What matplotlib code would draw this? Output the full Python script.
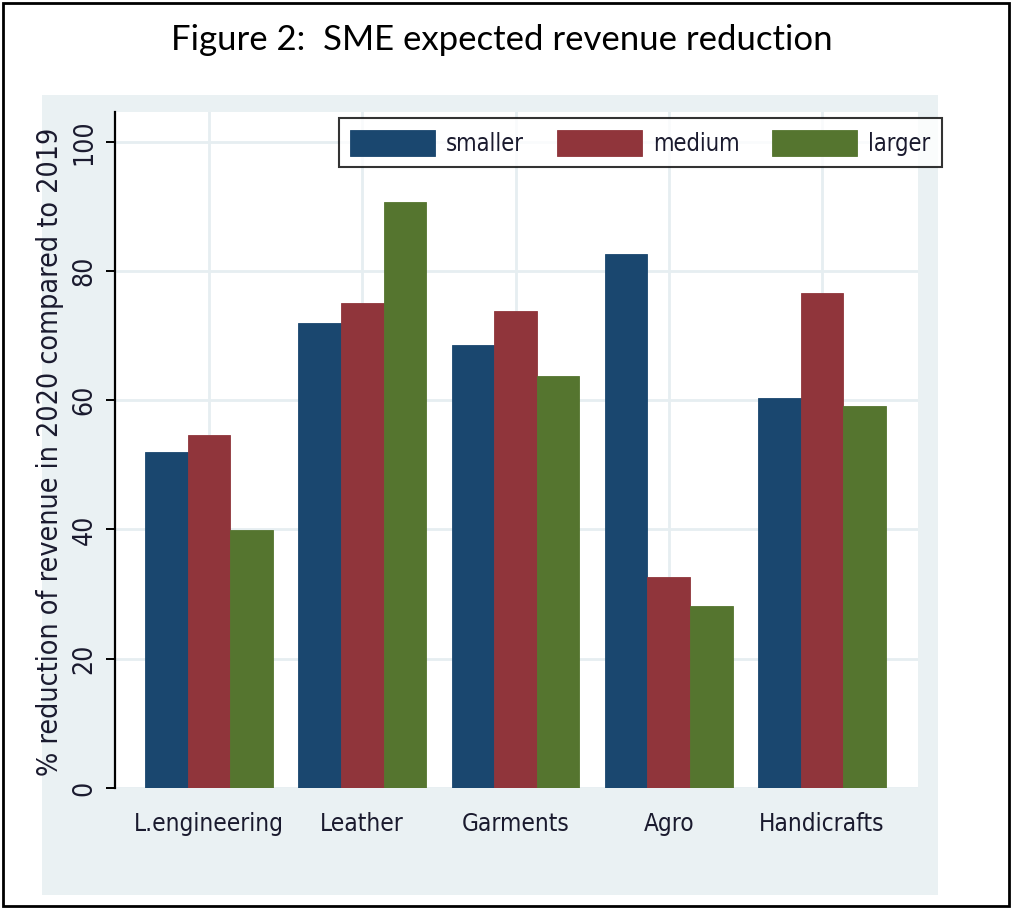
import numpy as np
import matplotlib.pyplot as plt
from matplotlib.patches import Rectangle

# datos
sectores = ["L.engineering", "Leather", "Garments", "Agro", "Handicrafts"]
tamanos = ["smaller", "medium", "larger"]
smaller = [52.0, 72.0, 68.6, 82.6, 60.4]
medium = [54.6, 75.0, 73.8, 32.7, 76.6]
larger = [39.9, 90.6, 63.8, 28.2, 59.1]
valores = [smaller, medium, larger]
colores = ["#1A476F", "#90353B", "#55752F"]

plt.rcParams["font.family"] = ["DejaVu Sans"]
plt.rcParams["font.stretch"] = "condensed"

fig = plt.figure(figsize=(10.12, 9.09), dpi=100)
W, H = 1012, 909

# fondo gris de la region del grafico (estilo Stata)
fig.patches.append(Rectangle((42 / W, 1 - 895 / H), 896 / W, 800 / H,
                             transform=fig.transFigure, facecolor="#EAF1F3",
                             edgecolor="none", zorder=-1))
# marco exterior negro
fig.patches.append(Rectangle((3 / W, 3 / H), 1006 / W, 903 / H,
                             transform=fig.transFigure, facecolor="none",
                             edgecolor="black", linewidth=2, zorder=10))

ax = fig.add_axes([115 / W, 1 - 788 / H, 803 / W, 676 / H])
ax.set_facecolor("white")

x = np.arange(len(sectores))
ancho = 0.278
for i, (serie, col, nombre) in enumerate(zip(valores, colores, tamanos)):
    ax.bar(x + (i - 1) * ancho, serie, width=ancho, color=col, edgecolor=col,
           linewidth=0.6, label=nombre, zorder=3)

ax.set_xlim(-0.613, 4.626)
ax.set_ylim(0, 104.6)

ax.set_yticks([0, 20, 40, 60, 80, 100])
ax.set_xticks(x)
ax.set_xticklabels(sectores, fontsize=17.5, color="#1a1a2e")
ax.tick_params(axis="x", length=0, pad=17)
ax.tick_params(axis="y", length=6.5, width=1.4, pad=6, labelsize=19,
               labelcolor="#1a1a2e")
for lab in ax.get_yticklabels():
    lab.set_rotation(90)
    lab.set_va("center")

ax.grid(True, color="#E6EEF1", linewidth=2, zorder=0)
ax.set_axisbelow(True)
for lado in ["top", "right", "bottom"]:
    ax.spines[lado].set_visible(False)
ax.spines["left"].set_linewidth(1.6)

ax.set_ylabel("% reduction of revenue in 2020 compared to 2019", fontsize=20.5,
              color="#1a1a2e", va="center")
ax.yaxis.set_label_coords(-0.081, 0.497)

leg = ax.legend(ncol=3, loc="upper right", bbox_to_anchor=(942 / W, 1 - 118 / H),
                bbox_transform=fig.transFigure, fontsize=17, frameon=True,
                fancybox=False, edgecolor="black", handlelength=3.6,
                handleheight=1.3, handletextpad=0.45, columnspacing=1.4,
                borderpad=0.5, borderaxespad=0)
leg.get_frame().set_linewidth(1.5)
for t in leg.get_texts():
    t.set_color("#1a1a2e")

fig.text(0.496, 1 - 40 / H, "Figure 2:  SME expected revenue reduction",
         ha="center", va="center", fontsize=25, family=["Lato", "DejaVu Sans"],
         fontstretch="normal")

fig.savefig("out.png", dpi=100)
